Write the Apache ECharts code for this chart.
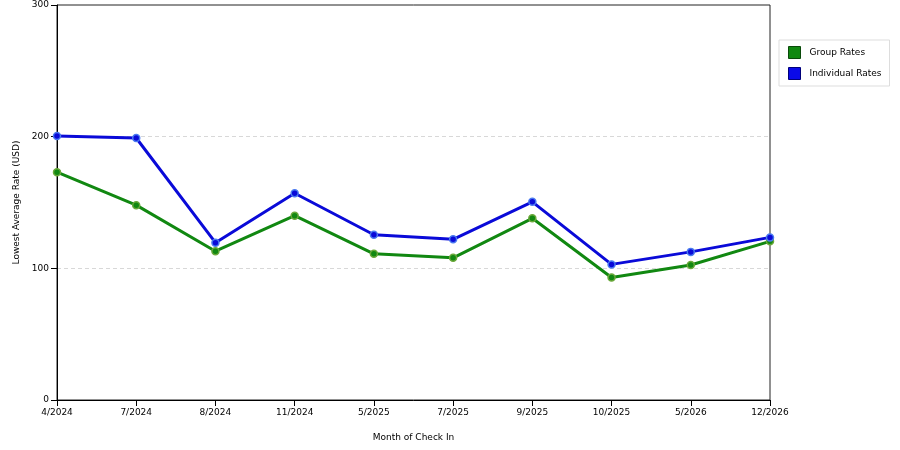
<!DOCTYPE html>
<html>
<head>
<meta charset="utf-8">
<script src="https://cdn.jsdelivr.net/npm/echarts@6/dist/echarts.min.js"></script>
<style>
  html, body { margin: 0; padding: 0; background: #fff; }
  #chart { width: 900px; height: 450px; }
</style>
</head>
<body>
<div id="chart"></div>
<script>
// month of check in
const months = ['4/2024', '7/2024', '8/2024', '11/2024', '5/2025', '7/2025', '9/2025', '10/2025', '5/2026', '12/2026'];
const groupRates = [173, 148, 113, 140, 111, 108, 138, 93, 102.5, 120.5];
const individualRates = [200.5, 199, 119.5, 157, 125.5, 122, 150.5, 103, 112.5, 123.5];
const yTicks = [0, 100, 200, 300];

const font = 'DejaVu Sans';
const chart = echarts.init(document.getElementById('chart'));

function lineSeries(name, color, halo, data) {
  return {
    name: name,
    type: 'line',
    data: data,
    symbol: 'circle',
    symbolSize: 7,
    showSymbol: true,
    lineStyle: { color: color, width: 3 },
    itemStyle: { color: color, borderColor: halo, borderWidth: 1.5 },
    emphasis: { disabled: true },
    animation: false
  };
}

chart.setOption({
  animation: false,
  grid: {
    left: 57, right: 130, top: 5, bottom: 50,
    show: true,
    borderColor: '#222',
    borderWidth: 1
  },
  legend: {
    orient: 'vertical',
    left: 779,
    top: 40,
    padding: [6, 8, 6, 9],
    borderColor: '#ddd',
    borderWidth: 1,
    itemWidth: 12,
    itemHeight: 12,
    itemGap: 8,
    icon: 'rect',
    textStyle: { fontFamily: font, fontSize: 9, color: '#000', padding: [0, 0, 0, 4] },
    data: [
      { name: 'Group Rates', itemStyle: { color: '#118811', borderColor: '#0a4a0a', borderWidth: 1 } },
      { name: 'Individual Rates', itemStyle: { color: '#0a0ae8', borderColor: '#00007a', borderWidth: 1 } }
    ]
  },
  xAxis: {
    type: 'category',
    data: months,
    boundaryGap: false,
    name: 'Month of Check In',
    nameLocation: 'middle',
    nameGap: 33,
    nameTextStyle: { fontFamily: font, fontSize: 9, color: '#000' },
    axisLine: { lineStyle: { color: '#000', width: 1 } },
    axisTick: { show: true, length: 6, lineStyle: { color: '#000' }, alignWithLabel: true },
    axisLabel: { fontFamily: font, fontSize: 9, color: '#000', margin: 8, interval: 0 },
    splitLine: { show: false }
  },
  yAxis: {
    type: 'value',
    min: yTicks[0],
    max: yTicks[yTicks.length - 1],
    interval: 100,
    name: 'Lowest Average Rate (USD)',
    nameLocation: 'middle',
    nameGap: 35,
    nameTextStyle: { fontFamily: font, fontSize: 9, color: '#000' },
    axisLine: { show: true, lineStyle: { color: '#000', width: 1 } },
    axisTick: { show: true, length: 6, lineStyle: { color: '#000' } },
    axisLabel: { fontFamily: font, fontSize: 9, color: '#000', margin: 8 },
    splitLine: {
      show: true,
      lineStyle: { color: ['transparent', '#d8d8d8', '#d8d8d8', 'transparent'], type: [4, 3], width: 1 }
    }
  },
  series: [
    lineSeries('Group Rates', '#118811', '#6aa83a', groupRates),
    lineSeries('Individual Rates', '#0a0ad8', '#4a7af0', individualRates)
  ]
});
</script>
</body>
</html>
